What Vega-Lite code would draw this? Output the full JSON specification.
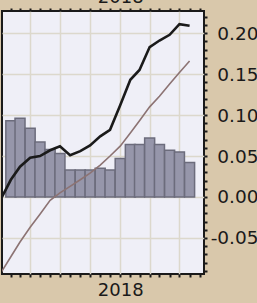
{
  "$schema": "https://vega.github.io/schema/vega-lite/v6.json",
  "width": 202,
  "height": 263,
  "autosize": {"type": "none"},
  "padding": {"left": 2, "top": 11, "right": 53, "bottom": 29},
  "background": "#d9c8ab",
  "config": {
    "view": {"stroke": "#1a1a1a", "strokeWidth": 2, "fill": "#efeff7"},
    "axis": {"labelFont": "DejaVu Sans", "domain": false, "tickColor": "#1a1a1a", "labelColor": "#1a1a1a", "title": null}
  },
  "data": {
    "values": [
      {"date": "2017-01-01", "bar": null, "black": -0.003, "brown": -0.093},
      {"date": "2017-02-01", "bar": 0.093, "black": 0.021, "brown": -0.073},
      {"date": "2017-03-01", "bar": 0.096, "black": 0.037, "brown": -0.055},
      {"date": "2017-04-01", "bar": 0.084, "black": 0.048, "brown": -0.037},
      {"date": "2017-05-01", "bar": 0.067, "black": 0.050, "brown": -0.021},
      {"date": "2017-06-01", "bar": 0.058, "black": 0.057, "brown": -0.004},
      {"date": "2017-07-01", "bar": 0.053, "black": 0.062, "brown": 0.005},
      {"date": "2017-08-01", "bar": 0.033, "black": 0.051, "brown": 0.013},
      {"date": "2017-09-01", "bar": 0.033, "black": 0.056, "brown": 0.021},
      {"date": "2017-10-01", "bar": 0.033, "black": 0.063, "brown": 0.029},
      {"date": "2017-11-01", "bar": 0.035, "black": 0.074, "brown": 0.039},
      {"date": "2017-12-01", "bar": 0.033, "black": 0.082, "brown": 0.050},
      {"date": "2018-01-01", "bar": 0.047, "black": 0.112, "brown": 0.062},
      {"date": "2018-02-01", "bar": 0.064, "black": 0.143, "brown": 0.078},
      {"date": "2018-03-01", "bar": 0.064, "black": 0.155, "brown": 0.093},
      {"date": "2018-04-01", "bar": 0.072, "black": 0.183, "brown": 0.110},
      {"date": "2018-05-01", "bar": 0.064, "black": 0.191, "brown": 0.123},
      {"date": "2018-06-01", "bar": 0.057, "black": 0.198, "brown": 0.138},
      {"date": "2018-07-01", "bar": 0.055, "black": 0.211, "brown": 0.152},
      {"date": "2018-08-01", "bar": 0.042, "black": 0.209, "brown": 0.166}
    ]
  },
  "layer": [
    {
      "mark": {"type": "bar", "size": 10, "fill": "#9696aa", "stroke": "#6c6c7c", "strokeWidth": 1.5, "clip": true},
      "encoding": {
        "x": {
          "field": "date", "type": "temporal",
          "scale": {"type": "utc", "padding": 0, "domain": [{"year": 2017, "month": 1, "date": 5, "utc": true}, {"year": 2018, "month": 9, "date": 14, "utc": true}]},
          "axis": {
            "orient": "bottom",
            "tickCount": {"interval": "month", "step": 1},
            "tickSize": 3, "tickWidth": 2,
            "labelExpr": "utcmonth(datum.value) == 0 ? utcFormat(datum.value, '%Y') : ''",
            "labelOverlap": false, "labelFlush": false,
            "labelFontSize": 18, "labelPadding": 4,
            "grid": true, "gridColor": "#dcd8cc", "gridWidth": 1.5,
            "gridOpacity": {"condition": {"test": "utcmonth(datum.value) % 3 == 0", "value": 1}, "value": 0}
          }
        },
        "y": {
          "field": "bar", "type": "quantitative",
          "scale": {"domain": [-0.094, 0.227], "nice": false, "zero": false},
          "axis": {
            "orient": "right",
            "values": [-0.09, -0.08, -0.07, -0.06, -0.05, -0.04, -0.03, -0.02, -0.01, 0, 0.01, 0.02, 0.03, 0.04, 0.05, 0.06, 0.07, 0.08, 0.09, 0.1, 0.11, 0.12, 0.13, 0.14, 0.15, 0.16, 0.17, 0.18, 0.19, 0.2, 0.21, 0.22],
            "labelExpr": "abs(round(datum.value*100)) % 5 == 0 ? replace(format(datum.value, '.2f'), '−', '-') : ''",
            "labelOverlap": false, "labelFlush": false,
            "labelAlign": "right", "labelPadding": 51, "labelFontSize": 18.5,
            "tickSize": 3, "tickWidth": 2,
            "grid": true, "gridColor": "#dcd8cc", "gridWidth": 1.5,
            "gridOpacity": {"condition": {"test": "abs(round(datum.value*100)) % 5 == 0", "value": 1}, "value": 0}
          }
        }
      }
    },
    {
      "mark": {"type": "line", "color": "#8c7373", "strokeWidth": 1.6, "clip": true},
      "encoding": {
        "x": {"field": "date", "type": "temporal", "axis": null},
        "y": {"field": "brown", "type": "quantitative", "axis": null}
      }
    },
    {
      "mark": {"type": "line", "color": "#1a1a1a", "strokeWidth": 2.6, "clip": true},
      "encoding": {
        "x": {
          "field": "date", "type": "temporal",
          "axis": {
            "orient": "top",
            "tickCount": {"interval": "month", "step": 1},
            "tickSize": 3, "tickWidth": 2,
            "labelExpr": "utcmonth(datum.value) == 0 ? utcFormat(datum.value, '%Y') : ''",
            "labelOverlap": false, "labelFlush": false,
            "labelFontSize": 18, "labelPadding": 2,
            "grid": false
          }
        },
        "y": {"field": "black", "type": "quantitative", "axis": null}
      }
    }
  ],
  "resolve": {"axis": {"x": "independent", "y": "independent"}}
}
